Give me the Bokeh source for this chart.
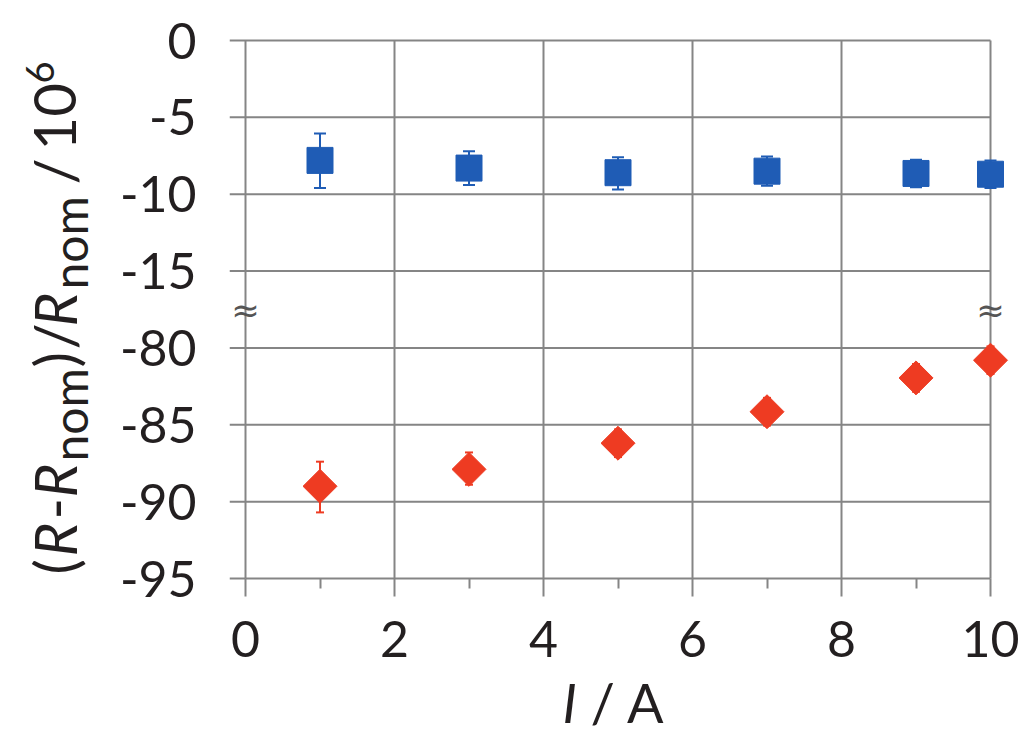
import math
from bokeh.plotting import figure
from bokeh.layouts import row
from bokeh.models import Range1d, FixedTicker, Whisker, TeeHead, ColumnDataSource
from bokeh.core.properties import value
from bokeh.embed import file_html
from bokeh.resources import INLINE

# ---------------- data ----------------
current = [1, 3, 5, 7, 9, 10]
dev_blue = [-7.8, -8.3, -8.6, -8.5, -8.65, -8.7]
err_blue_up = [1.75, 1.1, 1.0, 0.95, 0.9, 0.9]
err_blue_dn = [1.8, 1.1, 1.1, 0.95, 0.9, 0.9]
dev_red = [-89.0, -87.9, -86.2, -84.15, -81.95, -80.8]
err_red_up = [1.6, 1.1, 0.9, 0.9, 0.9, 0.9]
err_red_dn = [1.7, 1.0, 0.9, 0.9, 0.9, 0.9]

upper_ticks = [0, -5, -10, -15]
lower_ticks = [-80, -85, -90, -95]
x_ticks = [0, 2, 4, 6, 8, 10]
x_minor = [1, 3, 5, 7, 9]

BLUE = "#1f5cb5"
RED = "#ee3b22"
GRID = "#858585"
TXT = "#231f20"
FONT = "Lato"

# broken axis: lower block shifted so it follows the upper block
step = 5
offset = (upper_ticks[-1] - step) - lower_ticks[0]
disp_ticks = upper_ticks + [t + offset for t in lower_ticks]
tick_labels = [str(t) for t in upper_ticks + lower_ticks]
overrides = {t: l for t, l in zip(disp_ticks, tick_labels)}
break_pos = upper_ticks[-1] - step / 2

# ---------------- geometry (page pixels) ----------------
W_TOTAL, H_TOTAL = 1023, 735
YLAB_W = 110
PX_X0, PX_X10 = 245, 990          # x = 0 and x = 10
PX_Y0, PX_YB = 40, 578             # top tick and bottom tick
FR_L, FR_R, FR_T, FR_B = 229, W_TOTAL, 34, H_TOTAL
SX = (PX_X10 - PX_X0) / (x_ticks[-1] - x_ticks[0])
SY = (PX_YB - PX_Y0) / (disp_ticks[0] - disp_ticks[-1])
XMIN = x_ticks[0] - (PX_X0 - FR_L) / SX
XMAX = x_ticks[-1] + (FR_R - PX_X10) / SX
YMAX = disp_ticks[0] + (PX_Y0 - FR_T) / SY
YMIN = disp_ticks[-1] - (FR_B - PX_YB) / SY
BASE_K = 0.36   # offset of Bokeh's alphabetic baseline below the anchor, in em
ROT_SHIFT = 31  # along-text offset of rotated pieces (page px)

def dx(px):
    return XMIN + (px - FR_L) / SX

def dy(py):
    return YMAX - (py - FR_T) / SY

common = dict(output_backend="svg", toolbar_location=None,
              background_fill_color="white", border_fill_color="white",
              outline_line_color=None)

p = figure(x_range=Range1d(XMIN, XMAX), y_range=Range1d(YMIN, YMAX),
           frame_width=FR_R - FR_L, frame_height=FR_B - FR_T,
           min_border_left=FR_L - YLAB_W, min_border_right=0,
           min_border_top=FR_T, min_border_bottom=0, **common)
p.grid.visible = False

# grid lines + stubs left of the y axis (outward ticks)
hy = disp_ticks[:-1]
p.segment(x0=[XMIN] * len(hy), y0=hy, x1=[x_ticks[-1]] * len(hy), y1=hy,
          line_color=GRID, line_width=2, level="image")
p.segment(x0=[XMIN], y0=[disp_ticks[-1]], x1=[x_ticks[0]], y1=[disp_ticks[-1]],
          line_color=GRID, line_width=2, level="image")
vx = x_ticks[1:]
p.segment(x0=vx, y0=[disp_ticks[-1]] * len(vx), x1=vx, y1=[disp_ticks[0]] * len(vx),
          line_color=GRID, line_width=2, level="image")

# y axis (labels only; line/ticks are the grid stubs)
ya = p.yaxis[0]
ya.ticker = FixedTicker(ticks=disp_ticks)
ya.major_label_overrides = overrides
ya.axis_line_color = None
ya.major_tick_line_color = None
ya.minor_tick_line_color = None
ya.major_tick_out = 0
ya.major_tick_in = 0
ya.major_label_standoff = 33

# x axis drawn at the bottom grid line
xa = p.xaxis[0]
xa.fixed_location = disp_ticks[-1]
xa.bounds = (x_ticks[0], x_ticks[-1])
xa.ticker = FixedTicker(ticks=x_ticks, minor_ticks=x_minor)
xa.axis_line_color = GRID
xa.axis_line_width = 2
xa.major_tick_line_color = GRID
xa.major_tick_line_width = 2
xa.major_tick_in = 0
xa.major_tick_out = 18
xa.minor_tick_line_color = GRID
xa.minor_tick_line_width = 2
xa.minor_tick_in = 0
xa.minor_tick_out = 10
xa.major_label_standoff = 24

# y axis line at x = 0
p.segment(x0=[x_ticks[0]], y0=[disp_ticks[-1]], x1=[x_ticks[0]], y1=[disp_ticks[0]],
          line_color=GRID, line_width=2, level="image")

for ax in (xa, ya):
    ax.major_label_text_font = FONT
    ax.major_label_text_font_size = "50px"
    ax.major_label_text_color = TXT

# data
src_b = ColumnDataSource(dict(x=current, y=dev_blue,
                              up=[v + e for v, e in zip(dev_blue, err_blue_up)],
                              lo=[v - e for v, e in zip(dev_blue, err_blue_dn)]))
src_r = ColumnDataSource(dict(x=current, y=[v + offset for v in dev_red],
                              up=[v + offset + e for v, e in zip(dev_red, err_red_up)],
                              lo=[v + offset - e for v, e in zip(dev_red, err_red_dn)]))

for src, col, hs in ((src_b, BLUE, 12), (src_r, RED, 8)):
    w = Whisker(source=src, base="x", upper="up", lower="lo", line_color=col, line_width=2,
                upper_head=TeeHead(size=hs, line_color=col, line_width=2),
                lower_head=TeeHead(size=hs, line_color=col, line_width=2))
    p.add_layout(w)

p.scatter("x", "y", source=src_b, marker="square", size=26, fill_color=BLUE, line_color=BLUE)
p.scatter("x", "y", source=src_r, marker="square", size=24, angle=math.pi / 4,
          fill_color=RED, line_color=RED)

# break marks
p.text(x=[x_ticks[0], x_ticks[-1]], y=[break_pos, break_pos], text=["≈", "≈"],
       text_align="center", text_baseline="middle",
       text_font=value("DejaVu Sans"), text_font_size=value("34px"), text_color="#555555")

# x title (bottom-anchored so its box stays inside the picture)
XL_BOTTOM, XL_FS = 734, 54
xl_y = dy(XL_BOTTOM)
p.text(x=[dx(562)], y=[xl_y], text=["I"], text_align="left", text_baseline="bottom",
       text_font=value(FONT), text_font_size=value(f"{XL_FS}px"), text_font_style="italic",
       text_color=TXT)
p.text(x=[dx(590)], y=[xl_y], text=["/ A"], text_align="left", text_baseline="bottom",
       text_font=value(FONT), text_font_size=value(f"{XL_FS}px"), text_color=TXT)

# ---------------- y-axis title (rotated pieces, page-pixel coordinates) ----------------
yl = figure(x_range=Range1d(0, YLAB_W), y_range=Range1d(0, H_TOTAL),
            frame_width=YLAB_W, frame_height=H_TOTAL, min_border=0,
            x_axis_location=None, y_axis_location=None, **common)
yl.grid.visible = False
MAIN_FS, SUB_FS, SUP_FS = 58, 48, 38
BASE_MAIN, BASE_SUB, BASE_SUP = 75, 86, 53
pieces = [
    ("(", 571, BASE_MAIN, MAIN_FS, "normal"),
    ("R", 553, BASE_MAIN, MAIN_FS, "italic"),
    ("-", 516, BASE_MAIN, MAIN_FS, "normal"),
    ("R", 494, BASE_MAIN, MAIN_FS, "italic"),
    ("nom", 458, BASE_SUB, SUB_FS, "normal"),
    (")", 364, BASE_MAIN, MAIN_FS, "normal"),
    ("/", 346, BASE_MAIN, MAIN_FS, "normal"),
    ("R", 323, BASE_MAIN, MAIN_FS, "italic"),
    ("nom", 286, BASE_SUB, SUB_FS, "normal"),
    ("/", 181, BASE_MAIN, MAIN_FS, "normal"),
    ("10", 147, BASE_MAIN, MAIN_FS, "normal"),
    ("6", 80, BASE_SUP, SUP_FS, "normal"),
]
for t, py, px, fs, st in pieces:
    yl.text(x=[px - BASE_K * fs], y=[H_TOTAL - (py - ROT_SHIFT)], text=[t], angle=math.pi / 2,
            text_align="left", text_baseline="alphabetic",
            text_font=value(FONT), text_font_size=value(f"{fs}px"), text_font_style=st,
            text_color=TXT)

layout = row(yl, p)
open("out.html", "w").write(file_html(layout, INLINE))
